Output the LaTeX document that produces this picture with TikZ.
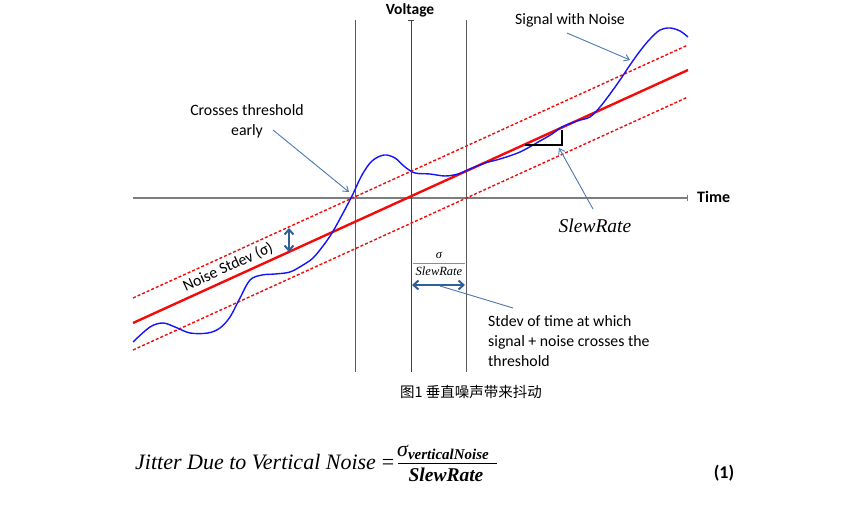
\documentclass[tikz,border=0pt]{standalone}
\usepackage{fontspec}
\setmainfont{Carlito}
\newfontfamily\cjkfont{Noto Sans CJK SC}
\newfontfamily\serifit{Liberation Serif}
\usetikzlibrary{arrows.meta}
\definecolor{sigblue}{RGB}{20,20,250}
\definecolor{linered}{RGB}{245,10,10}
\definecolor{annot}{RGB}{74,120,175}
\definecolor{dbl}{RGB}{50,95,150}
\definecolor{axgray}{RGB}{125,125,125}
\definecolor{vgray}{RGB}{90,90,90}
\tikzset{
  lbl/.style={font=\fontsize{15.8}{20}\selectfont, inner sep=0pt},
  boldlbl/.style={font=\fontsize{15.5}{17}\selectfont\bfseries, inner sep=0pt},
  annotarrow/.style={draw=annot, line width=0.9pt, -{Straight Barb[length=5pt,width=7pt]}},
  dblarrow/.style={draw=dbl, line width=2pt, {Straight Barb[length=5pt,width=9pt]}-{Straight Barb[length=5pt,width=9pt]}},
  vline/.style={draw=vgray, line width=0.9pt},
  dashedred/.style={draw=linered, line width=1.4pt, dash pattern=on 3pt off 2pt},
  eqfont/.style={inner sep=0pt, font=\serifit\itshape\fontsize{22}{24}\selectfont},
}
\begin{document}
\begin{tikzpicture}[x=1pt,y=-1pt]
\useasboundingbox (0,0) rectangle (860,510);
% axes
\coordinate (axL) at (133,198);
\coordinate (axR) at (688,198);
\coordinate (vTop) at (411,20);
\coordinate (vBot) at (411,372);
\coordinate (lTop) at (355,20);
\coordinate (lBot) at (355,372);
\coordinate (rTop) at (466,20);
\coordinate (rBot) at (466,372);
\draw[vline] (lTop) -- (lBot);
\draw[vline] (rTop) -- (rBot);
\draw[draw=axgray, line width=1.4pt, -{Bar[width=6pt]}] (axL) -- (axR);
\draw[draw=black!75, line width=1pt, -{Bar[width=6pt]}] (vBot) -- (vTop);
% lines
\coordinate (rA) at (133,323);
\coordinate (rB) at (688,70);
\coordinate (uA) at (133,298);
\coordinate (uB) at (688,45);
\coordinate (dA) at (133,350);
\coordinate (dB) at (688,97);
\draw[dashedred] (uA) -- (uB);
\draw[dashedred] (dA) -- (dB);
\draw[draw=linered, line width=2.4pt] (rA) -- (rB);
% signal
\draw[draw=sigblue, line width=1.4pt] plot[smooth, tension=0.55] coordinates {
(133,342) (150,327) (163,323) (175,327) (190,333) (208,333) (220,328) (230,317)
(240,298) (250,280) (262,275) (275,274) (290,272) (303,265) (313,258) (323,246)
(332,233) (342,215) (352,196) (362,175) (372,161) (384,155) (395,158) (405,167)
(415,173) (430,174) (445,176) (458,174) (470,169) (485,163) (500,159) (520,152)
(540,141) (552,134) (562,127) (577,121) (590,117) (600,107) (610,94) (620,80)
(630,65) (640,51) (650,39) (660,30) (670,28) (680,31) (688,37)};
% slew triangle
\coordinate (tA) at (525,145);
\coordinate (tB) at (562,145);
\coordinate (tC) at (562,130);
\draw[line width=2.2pt, line join=miter] (tA) -- (tB) -- (tC);
% labels
\node[boldlbl] (volt) at (410,10) {Voltage};
\node[boldlbl, anchor=west, font=\fontsize{16}{17}\selectfont\bfseries] (time) at (697,197) {Time};
\node[lbl] (sig) at (570,20) {Signal with Noise};
\coordinate (sigS) at (567,33);
\coordinate (sigE) at (630,60);
\draw[annotarrow] (sigS) -- (sigE);
\node[lbl, align=center] (cross) at (247,121) {Crosses threshold\\early};
\coordinate (crS) at (273,130);
\coordinate (crE) at (349,192);
\draw[annotarrow] (crS) -- (crE);
\node[inner sep=0pt, font=\serifit\itshape\fontsize{19.5}{22}\selectfont] (slew) at (595,226) {SlewRate};
\coordinate (slS) at (593,209);
\coordinate (slE) at (559,148);
\draw[annotarrow] (slS) -- (slE);
\node[lbl, rotate=24.5] (nstd) at (228,267) {Noise Stdev (σ)};
\coordinate (nsT) at (289,228);
\coordinate (nsB) at (289,252);
\draw[dblarrow] (nsT) -- (nsB);
% sigma / slewrate
\node[inner sep=0pt, font=\serifit\itshape\fontsize{12.5}{14}\selectfont] (fsig) at (439,255) {σ};
\coordinate (fbL) at (413,263);
\coordinate (fbR) at (465,263);
\draw[draw=black!45, line width=0.6pt] (fbL) -- (fbR);
\node[inner sep=0pt, font=\serifit\itshape\fontsize{12.5}{14}\selectfont] (fslew) at (439,271) {SlewRate};
\coordinate (jL) at (412,285);
\coordinate (jR) at (465,285);
\draw[dblarrow] (jL) -- (jR);
\coordinate (jm) at (440,286);
\coordinate (stS) at (513,308);
\draw[draw=annot, line width=0.9pt] (jm) -- (stS);
\node[lbl, align=left, anchor=north west] (stdev) at (488,315) {Stdev of time at which\\signal + noise crosses the\\threshold};
% caption
\node[inner sep=0pt, font=\cjkfont\fontsize{14.5}{16}\selectfont] (cap) at (471,392) {图1\ 垂直噪声带来抖动};
% equation
\node[eqfont, anchor=base west] (eqL) at (135,470) {Jitter Due to Vertical Noise};
\node[eqfont, anchor=base, font=\serifit\fontsize{22}{24}\selectfont] (eqeq) at (388,470) {=};
\node[eqfont, anchor=west] (num) at (397,452) {σ\raisebox{-3pt}{\bfseries\fontsize{15}{16}\selectfont verticalNoise}};
\coordinate (ebL) at (398,463);
\coordinate (ebR) at (497,463);
\draw[line width=0.8pt] (ebL) -- (ebR);
\node[inner sep=0pt, font=\serifit\itshape\bfseries\fontsize{19.5}{22}\selectfont] (den) at (446,475) {SlewRate};
\node[inner sep=0pt, font=\bfseries\fontsize{18}{20}\selectfont] (eqn) at (724,473) {(1)};
\end{tikzpicture}
\end{document}
